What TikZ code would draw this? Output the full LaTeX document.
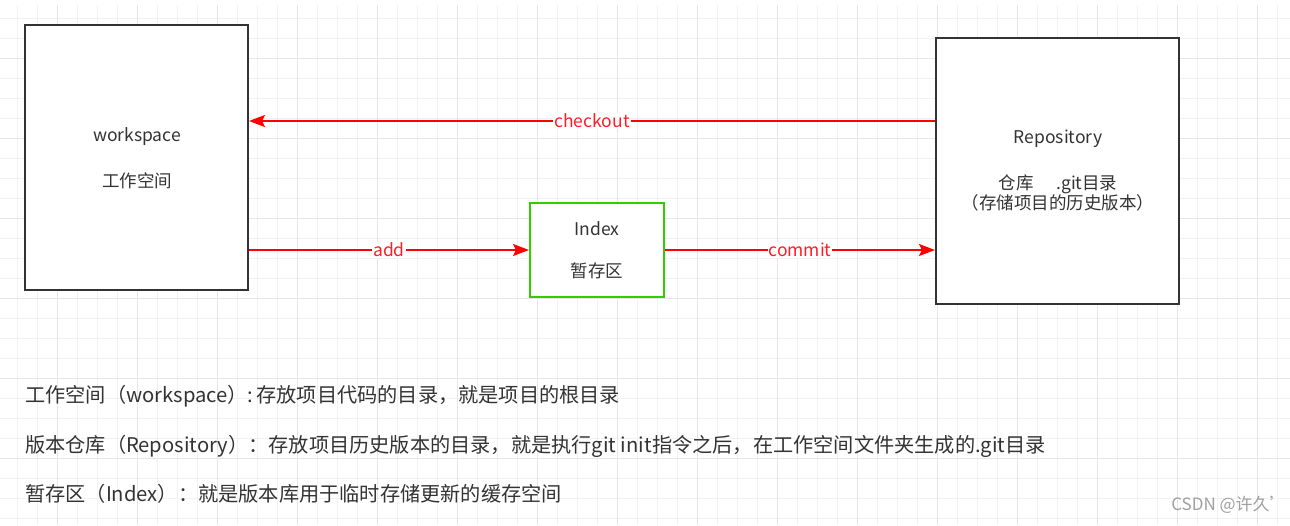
\documentclass[tikz,border=0pt]{standalone}
\usepackage{fontspec}
\setmainfont{Noto Sans CJK SC}
\usetikzlibrary{arrows.meta}
\definecolor{gridminor}{RGB}{242,242,242}
\definecolor{gridmajor}{RGB}{230,230,230}
\definecolor{boxgray}{RGB}{51,51,51}
\definecolor{txtgray}{RGB}{51,51,51}
\definecolor{arrred}{RGB}{255,0,0}
\definecolor{lblred}{RGB}{255,30,40}
\definecolor{idxgreen}{RGB}{51,204,0}
\definecolor{wmgray}{RGB}{160,160,160}
\tikzset{
  boxnode/.style={draw=boxgray, line width=2pt, fill=white, inner sep=0pt},
  idxnode/.style={draw=idxgreen, line width=2pt, fill=white, inner sep=0pt},
  boxtext/.style={text=txtgray, font=\fontsize{17.5}{20}\selectfont, inner sep=0pt},
  redarrow/.style={draw=arrred, line width=2pt, -{Stealth[length=16pt,width=12pt,inset=3pt]}},
  lbl/.style={fill=white, text=lblred, font=\fontsize{17.5}{20}\selectfont, inner sep=1pt},
  note/.style={text=txtgray, font=\fontsize{20.2}{24}\selectfont, inner sep=0pt, anchor=west},
}
\begin{document}
\begin{tikzpicture}[x=1pt,y=-1pt]
\useasboundingbox (0,0) rectangle (1290,525);
\fill[white] (0,0) rectangle (1290,525);
% grid
\foreach \i in {0,...,63} {
  \draw[gridminor, line width=1pt] (17+20*\i,5) -- (17+20*\i,525);
}
\foreach \i in {0,...,25} {
  \draw[gridminor, line width=1pt] (0,18+20*\i) -- (1290,18+20*\i);
}
\foreach \i in {0,...,15} {
  \draw[gridmajor, line width=1pt] (57+80*\i,5) -- (57+80*\i,525);
}
\foreach \i in {0,...,6} {
  \draw[gridmajor, line width=1pt] (0,58+80*\i) -- (1290,58+80*\i);
}
% boxes
\node[boxnode, minimum width=223pt, minimum height=265pt] (ws) at (136.5,157.5) {};
\node[idxnode, minimum width=134pt, minimum height=94pt] (idx) at (597,250) {};
\node[boxnode, minimum width=243pt, minimum height=266pt] (repo) at (1057.5,171) {};
% box texts
\node[boxtext] (wst1) at (137,137) {workspace};
\node[boxtext] (wst2) at (137,181) {工作空间};
\node[boxtext] (idxt1) at (597,229) {Index};
\node[boxtext] (idxt2) at (597,271) {暂存区};
\node[boxtext] (rpt1) at (1058,139) {Repository};
\node[boxtext] (rpt2) at (1058,184) {仓库\hspace{1.3em}.git目录};
\node[boxtext] (rpt3) at (1058,203) {（存储项目的历史版本）};
% connectors
\coordinate (co) at (0,121);
\draw[redarrow] (repo.west |- co) -- node[lbl] (lco) {checkout} (ws.east |- co);
\draw[redarrow] (ws.east |- idx.west) -- node[lbl] (lad) {add} (idx.west);
\draw[redarrow] (idx.east) -- node[lbl] (lcm) {commit} (repo.west |- idx.east);
% notes
\node[note] (n1) at (25,396) {工作空间（workspace）:\hspace{0.15em}存放项目代码的目录，就是项目的根目录};
\node[note] (n2) at (25,446) {版本仓库（Repository）：存放项目历史版本的目录，就是执行git init指令之后，在工作空间文件夹生成的.git目录};
\node[note] (n3) at (25,494) {暂存区（Index）：就是版本库用于临时存储更新的缓存空间};
\node[text=wmgray, font=\fontsize{17}{20}\selectfont, inner sep=0pt] (wm) at (1229,505) {CSDN @许久'};
\end{tikzpicture}
\end{document}
